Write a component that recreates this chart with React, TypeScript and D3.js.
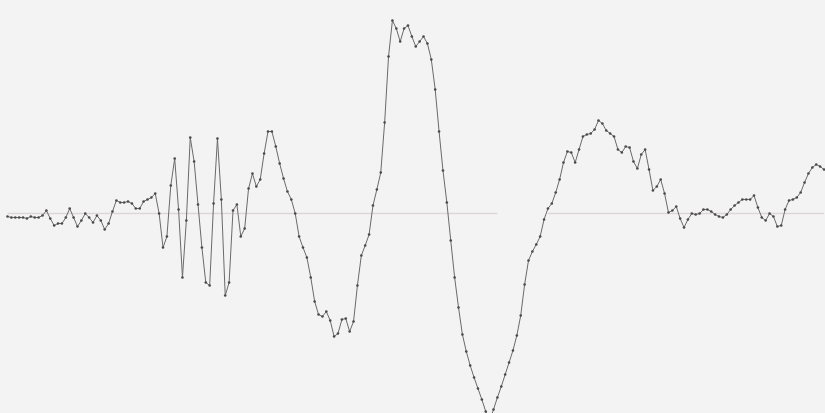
import React from "react";
import * as d3 from "d3";

// Sample index -> amplitude (pixels above baseline in the reference, arbitrary units)
const amplitudes: number[] = [
  -3, -4, -4, -4, -4, -5, -3, -4, -4, -2,
  3, -5, -12, -10, -10, -4, 5, -4, -13, -7,
  0, -4, -9, -2, -7, -16, -10, 2, 13, 11,
  11, 12, 10, 5, 5, 12, 14, 16, 20, 0,
  -34, -23, 28, 55, 4, -64, -7, 76, 52, 9,
  -34, -69, -72, 10, 75, 14, -82, -69, 3, 9,
  -23, -15, 25, 40, 27, 34, 60, 82, 82, 67,
  50, 35, 22, 14, 0, -23, -34, -44, -64, -88,
  -101, -103, -98, -107, -123, -120, -106, -105, -118, -108,
  -72, -42, -32, -21, 8, 24, 41, 91, 157, 193,
  185, 172, 185, 188, 177, 167, 172, 177, 170, 154,
  124, 82, 43, 11, -27, -64, -94, -121, -138, -152,
  -164, -175, -186, -198, -207, -196, -184, -173, -161, -149,
  -137, -122, -102, -71, -47, -38, -31, -23, -6, 5,
  10, 21, 34, 51, 62, 61, 51, 64, 77, 79,
  80, 84, 93, 90, 83, 80, 77, 64, 61, 67,
  66, 52, 45, 59, 64, 44, 23, 27, 34, 20,
  1, 3, 7, -5, -14, -6, 0, -1, 0, 4,
  4, 2, -1, -3, -4, -1, 4, 8, 11, 14,
  14, 14, 18, 6, -4, -7, 0, -3, -13, -12,
  4, 13, 14, 16, 21, 31, 40, 46, 49, 47,
  44,
];

// Baseline (zero line) spans, in sample-index units
const baselineSpans: [number, number][] = [
  [0, 126],
  [139, 210],
];

const yDomain: [number, number] = [-199.5, 213.5];

const W = 825;
const H = 413;

export default function App() {
  const x = d3
    .scaleLinear()
    .domain([0, amplitudes.length - 1])
    .range([7.5, 824]);
  const y = d3.scaleLinear().domain(yDomain).range([H, 0]);

  const line = d3
    .line<number>()
    .x((_, i) => x(i))
    .y((d) => y(d));

  return (
    <svg
      width={W}
      height={H}
      style={{ position: "absolute", left: 0, top: 0, display: "block" }}
    >
      <rect x={0} y={0} width={W} height={H} fill="#f3f3f3" />
      {baselineSpans.map(([a, b], i) => (
        <line
          key={i}
          x1={x(a)}
          x2={x(b)}
          y1={y(0)}
          y2={y(0)}
          stroke="#ddd6d6"
          strokeWidth={1.3}
        />
      ))}
      <path d={line(amplitudes) || ""} fill="none" stroke="#6a6a6a" strokeWidth={1} />
      {amplitudes.map((d, i) => (
        <circle key={i} cx={x(i)} cy={y(d)} r={1.3} fill="#4a4a4a" />
      ))}
    </svg>
  );
}
